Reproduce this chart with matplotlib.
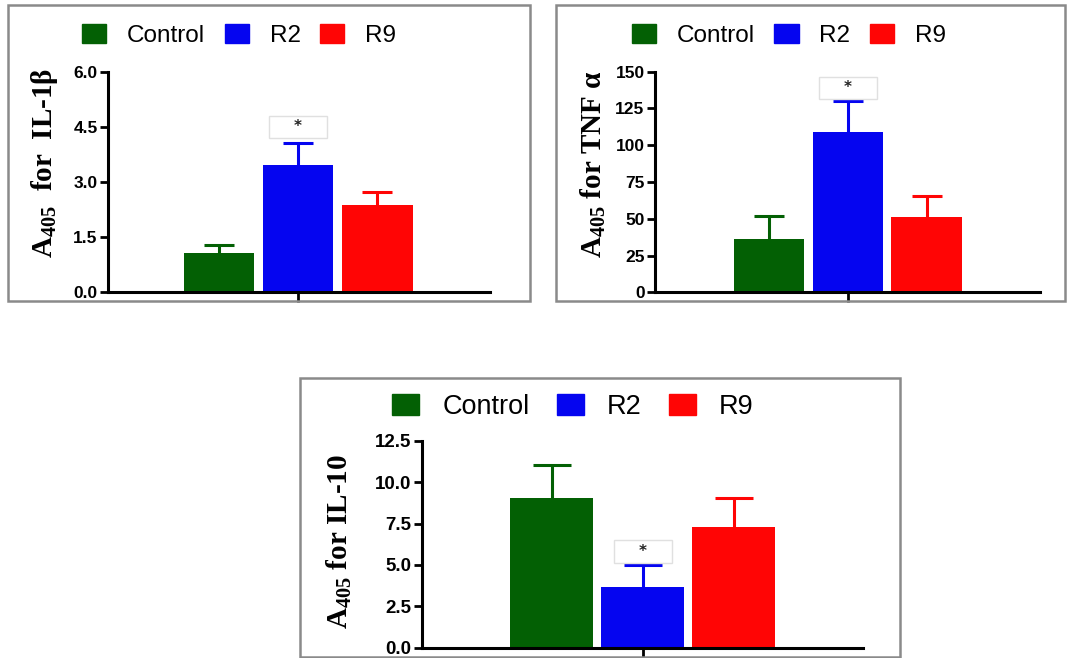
import matplotlib
matplotlib.use("Agg")
import matplotlib.pyplot as plt
from matplotlib.patches import Patch, Rectangle

plt.rcParams['mathtext.fontset'] = 'custom'
plt.rcParams['mathtext.rm'] = 'Liberation Serif'
plt.rcParams['mathtext.bf'] = 'Liberation Serif:bold'

groups = ["Control", "R2", "R9"]
colors = ["#036004", "#0505F0", "#FF0505"]

il1b_mean = [1.08, 3.47, 2.37]
il1b_err = [0.21, 0.58, 0.35]
tnfa_mean = [36.0, 108.8, 51.0]
tnfa_err = [16.0, 21.5, 14.5]
il10_mean = [9.02, 3.65, 7.27]
il10_err = [2.0, 1.35, 1.75]

il1b_ticks = [0.0, 1.5, 3.0, 4.5, 6.0]
il1b_ticklabels = ["0.0", "1.5", "3.0", "4.5", "6.0"]
tnfa_ticks = [0, 25, 50, 75, 100, 125, 150]
tnfa_ticklabels = ["0", "25", "50", "75", "100", "125", "150"]
il10_ticks = [0.0, 2.5, 5.0, 7.5, 10.0, 12.5]
il10_ticklabels = ["0.0", "2.5", "5.0", "7.5", "10.0", "12.5"]

star_group = 1  # R2 marked as significant

W, H = 1072, 658
fig = plt.figure(figsize=(W / 100, H / 100), dpi=100)


def px_rect(x0, y0, x1, y1):
    return [x0 / W, 1 - y1 / H, (x1 - x0) / W, (y1 - y0) / H]


# panel frames (gray boxes)
for (x0, y0, x1, y1) in [(8, 5, 530, 301), (556, 5, 1065, 301), (300, 378, 900, 657)]:
    fig.add_artist(Rectangle((x0 / W, 1 - y1 / H), (x1 - x0) / W, (y1 - y0) / H,
                             transform=fig.transFigure, fill=False,
                             edgecolor="#8a8a8a", linewidth=1.8))


def panel(rect, means, errs, ticks, ticklabels, ylabel, xlim, width,
          label_x, label_y, leg_x, tick_fs, leg_fs, lab_fs, capsize, star_frac,
          colspace):
    ax = fig.add_axes(rect)
    x = [-1, 0, 1]
    ax.bar(x, means, width=width, color=colors, zorder=2)
    for xi, m, e, c in zip(x, means, errs, colors):
        ax.errorbar([xi], [m], yerr=[e], fmt="none", ecolor=c,
                    elinewidth=2.2, capsize=capsize, capthick=2.2, zorder=1)
    ymax = ticks[-1]
    ax.set_ylim(0, ymax)
    ax.set_xlim(*xlim)
    ax.set_yticks(ticks)
    ax.set_yticklabels(ticklabels, fontfamily="Liberation Sans",
                       fontweight="bold", fontsize=tick_fs)
    ax.set_xticks([0])
    ax.set_xticklabels([""])
    ax.tick_params(axis="y", length=6, width=2, pad=1.5)
    ax.tick_params(axis="x", length=7, width=2)
    for s in ["top", "right"]:
        ax.spines[s].set_visible(False)
    for s in ["left", "bottom"]:
        ax.spines[s].set_linewidth(2.2)
    ax.patch.set_alpha(0)
    ax.set_ylabel(ylabel, fontfamily="Liberation Serif", fontweight="bold",
                  fontsize=lab_fs)
    ax.yaxis.set_label_coords(label_x, label_y)
    # significance star
    ys = means[star_group] + errs[star_group] + star_frac * ymax
    ax.text(x[star_group], ys, "    *    ", ha="center", va="center",
            fontsize=11, fontweight="bold", color="#222222",
            bbox=dict(boxstyle="square,pad=0.25", fc="white", ec="#e0e0e0", lw=1))
    handles = [Patch(facecolor=c, edgecolor=c, label=g) for g, c in zip(groups, colors)]
    ax.legend(handles=handles, loc="center left", bbox_to_anchor=(leg_x, 1.163),
              ncol=3, frameon=False, borderpad=0, borderaxespad=0,
              handlelength=1.0, handleheight=0.8, handletextpad=0.85,
              columnspacing=colspace,
              prop={"family": "Liberation Sans", "size": leg_fs})
    return ax


panel(px_rect(108, 71.7, 490, 292.3), il1b_mean, il1b_err, il1b_ticks, il1b_ticklabels,
      r"$\mathbf{A_{405}}$  for  IL-1β", (-2.40, 2.42), 0.89,
      -0.125, 0.586, -0.068, 12.5, 17.5, 21, 11, 0.075, 0.8)
panel(px_rect(655, 71.7, 1040, 292.3), tnfa_mean, tnfa_err, tnfa_ticks, tnfa_ticklabels,
      r"$\mathbf{A_{405}}$ for TNF α", (-2.45, 2.44), 0.895,
      -0.123, 0.58, -0.060, 12.5, 17.5, 21, 11, 0.058, 0.8)
panel(px_rect(421.7, 440.7, 863, 647.7), il10_mean, il10_err, il10_ticks, il10_ticklabels,
      r"$\mathbf{A_{405}}$ for IL-10", (-2.43, 2.42), 0.91,
      -0.153, 0.514, -0.067, 13.5, 19.5, 21, 14, 0.064, 1.0)

fig.savefig("out.png", dpi=100, facecolor="white")
